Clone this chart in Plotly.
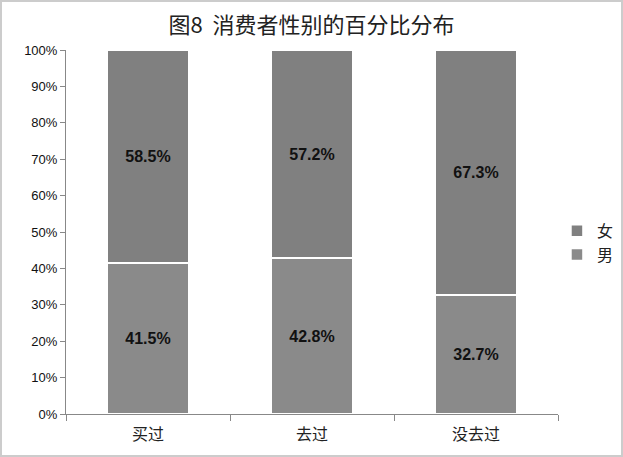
import plotly.graph_objects as go

categories = ["买过", "去过", "没去过"]
male = [41.5, 42.8, 32.7]
female = [58.5, 57.2, 67.3]
y_ticks = [0, 10, 20, 30, 40, 50, 60, 70, 80, 90, 100]
y_tick_text = [f"{v}%" for v in y_ticks]

font_family = "Noto Sans CJK SC, Liberation Sans, sans-serif"
label_font = dict(color="#111111", size=16, family="Liberation Sans, Arial", weight="bold")

fig = go.Figure()

fig.add_trace(go.Bar(
    x=categories,
    y=male,
    name="男",
    legendgroup="m",
    marker=dict(color="#8a8a8a", line=dict(color="white", width=1.5)),
    text=[f"{v}%" for v in male],
    textposition="inside",
    insidetextanchor="middle",
    textfont=label_font,
))

fig.add_trace(go.Bar(
    x=categories,
    y=female,
    name="女",
    legendgroup="f",
    marker=dict(color="#808080", line=dict(color="white", width=1.5)),
    text=[f"{v}%" for v in female],
    textposition="inside",
    insidetextanchor="middle",
    textfont=label_font,
))

fig.update_layout(
    barmode="stack",
    bargap=0.5,
    width=623,
    height=457,
    autosize=False,
    paper_bgcolor="white",
    plot_bgcolor="white",
    font=dict(family=font_family, color="#222222", size=13),
    title=dict(
        text="图8  消费者性别的百分比分布",
        x=0.5,
        xanchor="center",
        y=0.945,
        yanchor="middle",
        font=dict(size=22, color="#222222", family=font_family),
    ),
    margin=dict(l=66, r=65, t=50, b=43, autoexpand=False),
    legend=dict(
        xref="container",
        x=0.894,
        y=0.47,
        xanchor="left",
        yanchor="middle",
        traceorder="reversed",
        tracegroupgap=5,
        font=dict(size=16, family=font_family),
        itemwidth=30,
    ),
    uniformtext=dict(minsize=10, mode="show"),
)

fig.update_xaxes(
    showline=True,
    linecolor="#888888",
    linewidth=1,
    ticks="outside",
    tickson="boundaries",
    ticklen=6,
    tickcolor="#888888",
    tickfont=dict(size=16, family=font_family),
    ticklabelstandoff=6,
    showgrid=False,
)

fig.update_yaxes(
    range=[0, 100],
    tickvals=y_ticks,
    ticktext=y_tick_text,
    showline=True,
    linecolor="#888888",
    linewidth=1,
    ticks="outside",
    ticklen=5,
    tickcolor="#888888",
    tickfont=dict(size=13, family="Liberation Sans, Arial", color="#111111"),
    showgrid=False,
    zeroline=False,
)

fig.add_shape(
    type="rect", xref="paper", yref="paper",
    x0=-65 / 492, x1=1 + 64 / 492, y0=-42 / 364, y1=1 + 49 / 364,
    line=dict(color="#cccccc", width=2),
)

fig.write_html(
    "out.html",
    config={"displayModeBar": False, "responsive": False},
    post_script="document.body.style.margin='0';document.body.style.overflow='hidden';",
)
